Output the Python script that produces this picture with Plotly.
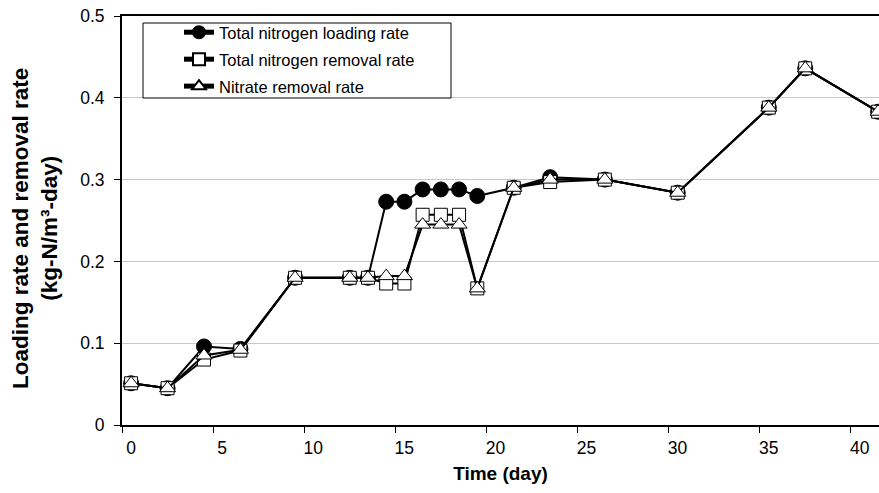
import plotly.graph_objects as go

time_day = [0.5, 2.5, 4.5, 6.5, 9.5, 12.5, 13.5, 14.5, 15.5, 16.5, 17.5, 18.5,
            19.5, 21.5, 23.5, 26.5, 30.5, 35.5, 37.5, 41.5]
tn_loading = [0.051, 0.045, 0.096, 0.093, 0.180, 0.180, 0.180, 0.273, 0.273, 0.288,
              0.288, 0.288, 0.280, 0.290, 0.303, 0.300, 0.284, 0.388, 0.436, 0.383]
tn_removal = [0.051, 0.045, 0.080, 0.091, 0.180, 0.180, 0.180, 0.173, 0.173, 0.257,
              0.257, 0.257, 0.167, 0.290, 0.297, 0.300, 0.284, 0.388, 0.436, 0.383]
nitrate_removal = [0.051, 0.045, 0.085, 0.092, 0.180, 0.180, 0.180, 0.182, 0.182, 0.245,
                   0.245, 0.245, 0.167, 0.290, 0.300, 0.300, 0.284, 0.388, 0.436, 0.383]

series_names = ["Total nitrogen loading rate", "Total nitrogen removal rate", "Nitrate removal rate"]
y_title = "<b>Loading rate and removal rate<br>(kg-N/m³-day)</b>"
x_title = "<b>Time (day)</b>"

FONT = "Arial, Liberation Sans, Helvetica, sans-serif"

fig = go.Figure()
fig.add_trace(go.Scatter(
    x=time_day, y=tn_loading, name=series_names[0], mode="lines+markers", legendgroup="a",
    line=dict(color="black", width=2),
    marker=dict(symbol="circle", size=15, color="black", line=dict(color="black", width=1)),
))
fig.add_trace(go.Scatter(
    x=time_day, y=tn_removal, name=series_names[1], mode="lines+markers", legendgroup="b",
    line=dict(color="black", width=2),
    marker=dict(symbol="square", size=13, color="white", line=dict(color="black", width=1)),
))
fig.add_trace(go.Scatter(
    x=time_day, y=nitrate_removal, name=series_names[2], mode="lines+markers", legendgroup="c",
    line=dict(color="black", width=2),
    marker=dict(symbol="triangle-up", size=14, color="white", line=dict(color="black", width=1)),
))

W, H = 879, 493
L, R, T, B = 122, 0, 16, 68
pw = W - L - R
ph = H - T - B

def px_x(p):
    return (p - L) / pw

def px_y(p):
    return (H - B - p) / ph

fig.add_shape(type="rect", xref="paper", yref="paper",
              x0=px_x(143), x1=px_x(451), y0=px_y(98), y1=px_y(23),
              line=dict(color="black", width=1), fillcolor="white", layer="above")

fig.add_annotation(text=y_title, xref="paper", yref="paper",
                   x=px_x(35), y=px_y(229), xanchor="center", yanchor="middle",
                   textangle=-90, showarrow=False,
                   font=dict(family=FONT, size=22.5, color="black"))

fig.update_layout(
    width=W, height=H,
    margin=dict(l=L, r=R, t=T, b=B, pad=0),
    paper_bgcolor="white", plot_bgcolor="white",
    font=dict(family=FONT, size=16, color="black"),
    showlegend=True,
    legend=dict(x=px_x(179), y=px_y(15), xanchor="left", yanchor="top",
                bgcolor="rgba(0,0,0,0)", borderwidth=0,
                font=dict(family=FONT, size=16.5, color="black"),
                itemsizing="constant", tracegroupgap=2.5, traceorder="grouped"),
    xaxis=dict(
        range=[0, (W - L - R) / 18.22], tick0=0, dtick=5,
        showgrid=False, zeroline=False,
        showline=True, linecolor="black", linewidth=2, mirror=True,
        ticks="outside", ticklen=6, tickwidth=1, tickcolor="black",
        ticklabelshift=9,
        tickfont=dict(family=FONT, size=17.5, color="black"),
        title=dict(text=x_title, font=dict(family=FONT, size=19, color="black"), standoff=10),
    ),
    yaxis=dict(
        range=[0, 0.5], tick0=0, dtick=0.1,
        showgrid=True, gridcolor="#c8c8c8", gridwidth=1, zeroline=False,
        showline=True, linecolor="black", linewidth=2,
        ticks="outside", ticklen=6, tickwidth=1, tickcolor="black",
        ticklabelstandoff=6,
        tickfont=dict(family=FONT, size=17.5, color="black"),
    ),
)

fig.write_html("out.html")
